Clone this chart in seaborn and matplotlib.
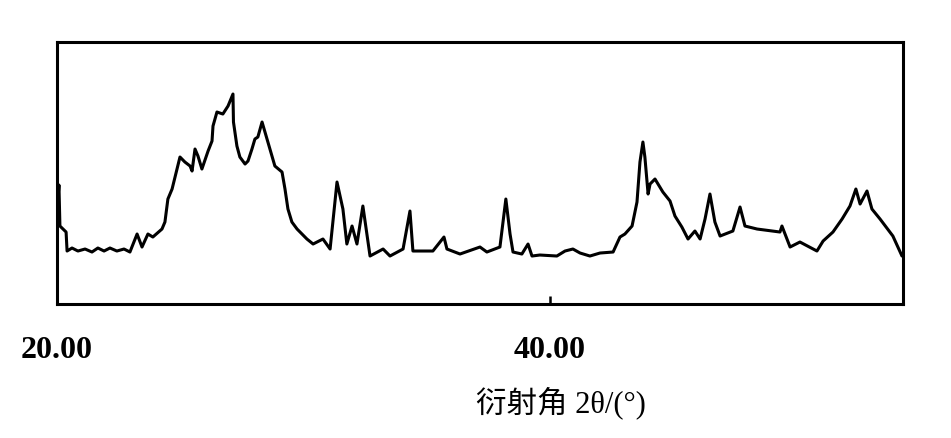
import matplotlib
matplotlib.use("Agg")
import matplotlib.pyplot as plt
import seaborn as sns
import pandas as pd

# XRD pattern (2θ in degrees, intensity in arbitrary units)
two_theta = [20.04, 20.08, 20.12, 20.37, 20.41, 20.61, 20.85, 21.14, 21.42, 21.66,
             21.91, 22.15, 22.43, 22.72, 22.96, 23.25, 23.45, 23.69, 23.89, 24.26,
             24.38, 24.50, 24.67, 24.79, 24.99, 25.19, 25.40, 25.48, 25.60, 25.72,
             25.88, 26.13, 26.29, 26.33, 26.49, 26.73, 26.94, 27.14, 27.16, 27.30,
             27.42, 27.63, 27.75, 27.91, 28.03, 28.15, 28.32, 28.52, 28.72, 28.84,
             29.13, 29.25, 29.37, 29.53, 29.74, 30.14, 30.39, 30.79, 31.08, 31.36,
             31.60, 31.76, 31.97, 32.17, 32.41, 32.70, 33.23, 33.51, 34.04, 34.32,
             34.44, 35.25, 35.70, 35.82, 36.35, 37.16, 37.44, 37.97, 38.21, 38.38,
             38.50, 38.86, 39.11, 39.27, 39.59, 40.28, 40.61, 40.93, 41.22, 41.62,
             42.03, 42.56, 42.84, 43.04, 43.33, 43.53, 43.65, 43.77, 43.85, 43.98,
             44.06, 44.26, 44.58, 44.87, 45.07, 45.35, 45.60, 45.88, 46.09, 46.29,
             46.49, 46.69, 46.90, 47.42, 47.71, 47.91, 48.40, 49.33, 49.41, 49.74,
             50.14, 50.83, 51.08, 51.48, 51.85, 52.17, 52.41, 52.58, 52.86, 53.06,
             53.39, 53.91, 54.28]
intensity = [105, 119, 78, 72, 53, 56, 53, 55, 52, 56,
             53, 56, 53, 55, 52, 70, 57, 70, 67, 75,
             82, 105, 115, 127, 147, 142, 138, 133, 155, 148,
             135, 153, 163, 178, 192, 190, 198, 210, 182, 158,
             147, 140, 143, 155, 165, 167, 182, 165, 148, 138,
             132, 115, 95, 82, 75, 65, 60, 65, 55, 122,
             95, 60, 78, 60, 98, 48, 55, 48, 55, 93,
             53, 53, 67, 55, 50, 57, 52, 57, 105, 70,
             52, 50, 60, 48, 49, 48, 53, 55, 51, 48,
             51, 52, 67, 70, 78, 102, 142, 162, 147, 110,
             120, 125, 112, 103, 88, 77, 65, 73, 65, 85,
             110, 82, 68, 73, 97, 78, 75, 72, 78, 57,
             62, 53, 63, 72, 85, 98, 115, 100, 113, 95,
             85, 68, 48]

tick_values = [20, 40]
tick_labels = ["20.00", "40.00"]
x_label = "衍射角 2θ/(°)"

df = pd.DataFrame({"two_theta": two_theta, "intensity": intensity})

sns.set_style("white")
plt.rcParams["font.family"] = ["Liberation Serif", "Noto Sans CJK SC", "DejaVu Sans"]

fig = plt.figure(figsize=(9.51, 4.39), dpi=100)
ax = fig.add_axes([0.0599, 0.3052, 0.8896, 0.5968])

sns.lineplot(data=df, x="two_theta", y="intensity", ax=ax, color="black",
             linewidth=2.2, estimator=None, sort=False)

ax.set_xlim(20, 54.32)
ax.set_ylim(0, 262)
ax.set_xticks(tick_values)
ax.set_xticklabels(tick_labels, fontsize=23, fontweight="bold", color="black")
ax.set_yticks([])
ax.tick_params(axis="x", bottom=True, direction="in", length=6, width=1.8,
               color="black", pad=22)
ax.set_xlabel("")
ax.set_ylabel("")
for sp in ax.spines.values():
    sp.set_visible(True)
    sp.set_color("black")
    sp.set_linewidth(2.2)

fig.text(561 / 951, 1 - 403 / 439, x_label, ha="center", va="center", fontsize=22,
         color="black", family=["Liberation Serif", "Noto Sans CJK SC", "DejaVu Sans"])

fig.savefig("out.png", dpi=100, facecolor="white")
